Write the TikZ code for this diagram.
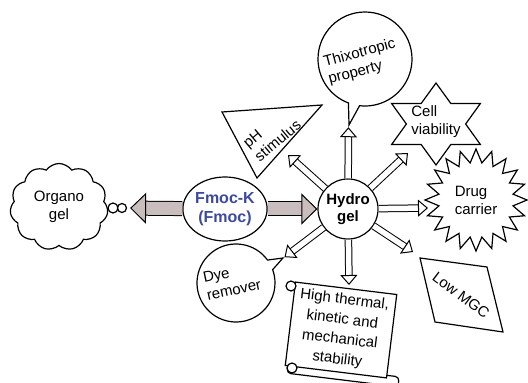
\documentclass[tikz,border=0pt]{standalone}
\usepackage{fontspec}
\setmainfont{Liberation Sans}
\usetikzlibrary{arrows.meta,shapes.geometric,shapes.symbols,shapes.callouts}
\definecolor{fatfill}{HTML}{C9BDBD}
\definecolor{fmocblue}{HTML}{3C4A9C}

\begin{document}
\begin{tikzpicture}[x=1pt, y=1pt,
  font=\fontsize{15}{18}\selectfont,
  shp/.style={draw=black, line width=1.2pt, fill=white},
  gel/.style={draw=black, line width=1.2pt, align=center, inner sep=0pt},
  lbl/.style={align=left, inner sep=0pt},
  fat/.style={draw=black, line width=1pt, double=fatfill, double distance=13pt,
              -{Triangle[width=31pt, length=16pt, fill=fatfill, line width=1pt]}},
  hollow/.style={draw=black, line width=1pt, double=white, double distance=5.5pt,
                 -{Triangle[width=17pt, length=10pt, fill=white, line width=1pt]}}
]
\useasboundingbox (0,0) rectangle (528,383);

% central gels
\node[gel, circle, minimum size=60pt, font=\fontsize{15}{17}\selectfont\bfseries] (hyd) at (348,174) {Hydro\\gel};
\node[gel, ellipse, minimum width=70pt, minimum height=64pt, text=fmocblue,
      font=\fontsize{16}{19}\selectfont\bfseries] (fmoc) at (225,174) {Fmoc-K\\(Fmoc)};

% organogel cloud
\node[shp, cloud, cloud puffs=11, cloud puff arc=110, aspect=1.1, minimum width=98pt,
      minimum height=87pt, align=center] (org) at (59,176) {Organo\\gel};
\node[shp, circle, minimum size=10pt, inner sep=0pt] (b1) at (113,175) {};
\node[shp, circle, minimum size=9pt, inner sep=0pt] (b2) at (122,175) {};

% fat arrows
\draw[fat] (fmoc) -- (hyd);
\draw[fat, shorten >=3pt] (fmoc) -- (b2);

% thixotropic property
\node[shp, ellipse callout, minimum size=94pt, callout absolute pointer={(349,258)},
      callout pointer arc=14] (thx) at (365,324) {};
\node[lbl, rotate=15] (thxt) at (362,321) {Thixotropic\\property};

% pH stimulus
\draw[shp] (222,271) -- (322,278) -- (257,205) -- cycle;
\node[lbl, rotate=40] (ph) at (272,249) {pH\\stimulus};

% cell viability
\node[shp, star, star points=6, star point ratio=1.73, minimum size=82pt, inner sep=0pt,
      xscale=1.25] (cel) at (436,259) {};
\node[lbl] (celt) at (436,261) {Cell\\viability};

% drug carrier
\node[shp, star, star points=20, star point ratio=1.36, minimum size=102pt,
      align=left] (drug) at (476,183) {Drug\\carrier};

% low MGC
\draw[shp] (420,125) -- (487,116) -- (503,51) -- (435,61) -- cycle;
\node[lbl, rotate=-37] (mgc) at (461,88) {Low MGC};

% dye remover
\node[shp, ellipse callout, minimum size=78pt, callout absolute pointer={(283,125)},
      callout pointer arc=16] (dye) at (236,100) {};
\node[lbl, rotate=12] (dyet) at (232,102) {Dye\\remover};

% scroll
\node[shp, rotate=-7, minimum width=112pt, minimum height=10pt, rounded corners=4pt] (roll) at (343,8) {};
\node[shp, rotate=-7, minimum width=102pt, minimum height=84pt, align=center,
      font=\fontsize{15}{20}\selectfont] (scr) at (341,53) {High thermal,\\kinetic and\\mechanical\\stability};
\node[shp, circle, minimum size=10pt, inner sep=0pt] (curlA) at (291,97) {};
\node[shp, circle, minimum size=10pt, inner sep=0pt] (curlB) at (292,15) {};

% hollow arrows
\coordinate (tPh) at (288,228);
\coordinate (tCel) at (408,230);
\coordinate (tDrug) at (428,175);
\coordinate (tMgc) at (413,131);
\coordinate (tScr) at (349,98);
\draw[hollow] (hyd) -- (thx.pointer);
\draw[hollow] (hyd) -- (tPh);
\draw[hollow] (hyd) -- (tCel);
\draw[hollow] (hyd) -- (tDrug);
\draw[hollow] (hyd) -- (tMgc);
\draw[hollow] (hyd) -- (tScr);
\draw[hollow] (hyd) -- (dye.pointer);
\end{tikzpicture}
\end{document}
